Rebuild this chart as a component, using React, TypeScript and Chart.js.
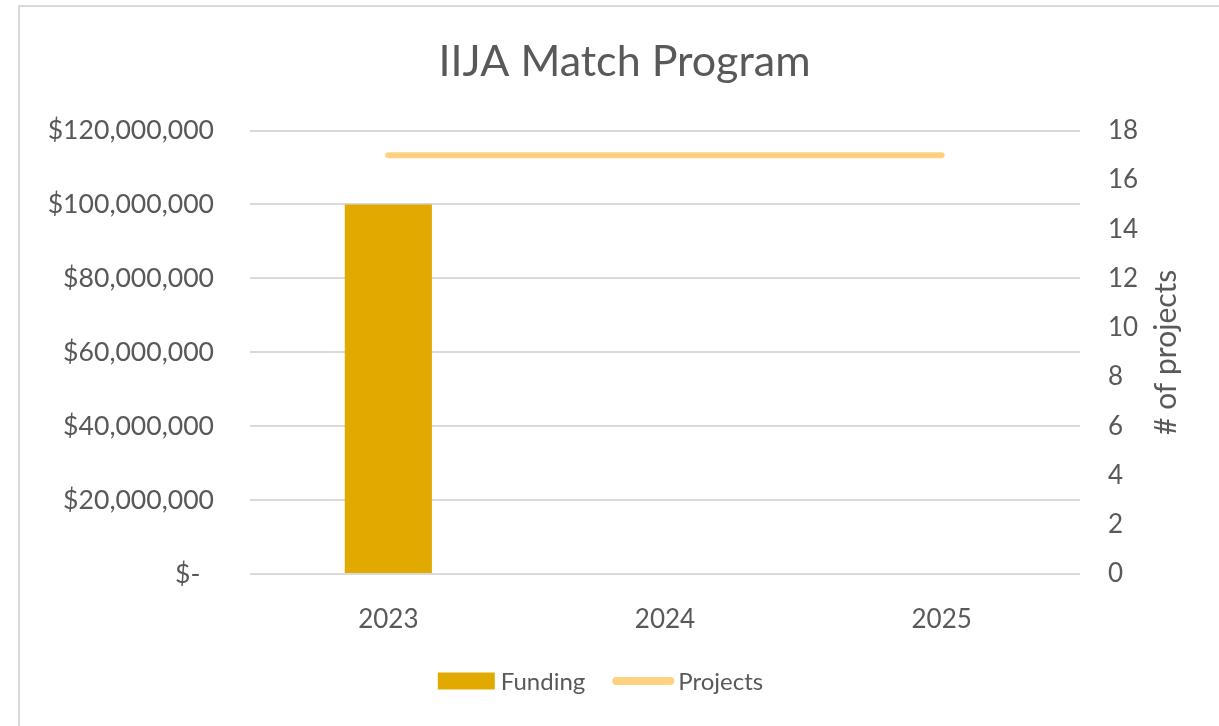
import React, { useEffect, useRef } from "react";
import { Chart, registerables } from "chart.js";

Chart.register(...registerables);

const categories = ["2023", "2024", "2025"];
const fundingValues = [100000000, 0, 0];
const projectValues = [17, 17, 17];
const fundingTickStep = 20000000;
const fundingMax = 120000000;
const projectTickStep = 2;
const projectMax = 18;
const titleText = "IIJA Match Program";
const rightAxisTitle = "# of projects";
const legendNames = ["Funding", "Projects"];

const TEXT = "#595959";
const GRID = "#d9d9d9";
const BAR = "#E2AA00";
const LINE = "#FFD282";
const FONT = "Lato";
const TITLE_SIZE = 43;
const TITLE_PAD_TOP = 36;

const overlayPlugin = {
  id: "overlay",
  afterDraw(chart: any) {
    const { ctx, chartArea } = chart;
    // Title (centered in the bordered frame)
    ctx.save();
    ctx.font = `${TITLE_SIZE}px ${FONT}`;
    ctx.fillStyle = TEXT;
    ctx.textAlign = "center";
    ctx.textBaseline = "middle";
    const tb = chart.titleBlock;
    ctx.fillText(titleText, chart.width / 2 + 15, tb.top + TITLE_PAD_TOP + (TITLE_SIZE * 1.2) / 2);
    ctx.restore();

    // Right axis title
    const s = chart.scales.y1;
    ctx.save();
    ctx.translate(s.left + 86, (chartArea.top + chartArea.bottom) / 2);
    ctx.rotate(-Math.PI / 2);
    ctx.font = `30px ${FONT}`;
    ctx.fillStyle = TEXT;
    ctx.textAlign = "center";
    ctx.textBaseline = "middle";
    ctx.fillText(rightAxisTitle, 0, 0);
    ctx.restore();

    // Legend
    ctx.save();
    ctx.font = `24px ${FONT}`;
    ctx.textBaseline = "middle";
    ctx.textAlign = "left";
    const w0 = ctx.measureText(legendNames[0]).width;
    const w1 = ctx.measureText(legendNames[1]).width;
    const sw = 57, g1 = 6, g2 = 27, lw = 62, g3 = 4;
    const total = sw + g1 + w0 + g2 + lw + g3 + w1;
    let x = chart.width / 2 - 9 - total / 2;
    const y = chartArea.bottom + 107;
    ctx.fillStyle = BAR;
    ctx.fillRect(x, y - 8.5, sw, 17);
    x += sw + g1;
    ctx.fillStyle = TEXT;
    ctx.fillText(legendNames[0], x, y + 1);
    x += w0 + g2;
    ctx.strokeStyle = LINE;
    ctx.lineWidth = 8;
    ctx.lineCap = "round";
    ctx.beginPath();
    ctx.moveTo(x + 4, y);
    ctx.lineTo(x + lw - 4, y);
    ctx.stroke();
    x += lw + g3;
    ctx.fillStyle = TEXT;
    ctx.fillText(legendNames[1], x, y + 1);
    ctx.restore();
  },
};

function fmtMoney(v: number) {
  if (v === 0) return "$-  ";
  return "$" + v.toLocaleString("en-US");
}

export default function App() {
  const ref = useRef<HTMLCanvasElement>(null);
  useEffect(() => {
    const chart = new Chart(ref.current!, {
      type: "bar",
      data: {
        labels: categories,
        datasets: [
          {
            type: "bar",
            label: legendNames[0],
            data: fundingValues,
            backgroundColor: BAR,
            yAxisID: "y",
            categoryPercentage: 1,
            barPercentage: 0.315,
            order: 2,
          },
          {
            type: "line",
            label: legendNames[1],
            data: projectValues,
            borderColor: LINE,
            backgroundColor: LINE,
            borderWidth: 6,
            borderCapStyle: "round",
            pointRadius: 0,
            yAxisID: "y1",
            order: 1,
          } as any,
        ],
      },
      options: {
        responsive: false,
        animation: false,
        devicePixelRatio: 1,
        layout: { padding: { top: 0, left: 0, right: 0, bottom: 68 } },
        plugins: {
          title: {
            display: true,
            text: titleText,
            color: "rgba(0,0,0,0)",
            font: { family: FONT, size: TITLE_SIZE, weight: "normal" },
            padding: { top: TITLE_PAD_TOP, bottom: 43 },
          },
          legend: { display: false },
          tooltip: { enabled: false },
        },
        scales: {
          x: {
            grid: { display: false },
            border: { display: false },
            ticks: {
              color: TEXT,
              font: { family: FONT, size: 26 },
              padding: 22,
            },
            afterFit: (s: any) => {
              s.height = 84;
            },
          },
          y: {
            position: "left",
            min: 0,
            max: fundingMax,
            grid: { color: GRID, lineWidth: 2, drawTicks: false },
            border: { display: false },
            ticks: {
              stepSize: fundingTickStep,
              color: TEXT,
              font: { family: FONT, size: 26.6 },
              padding: 36,
              callback: (v: any) => fmtMoney(Number(v)),
            },
            afterFit: (s: any) => {
              s.width = 250;
            },
          },
          y1: {
            position: "right",
            min: 0,
            max: projectMax,
            grid: { display: false, drawTicks: false },
            border: { display: false },
            ticks: {
              stepSize: projectTickStep,
              color: TEXT,
              font: { family: FONT, size: 26 },
              padding: 28,
            },
            afterFit: (s: any) => {
              s.width = 139;
            },
          },
        },
      },
      plugins: [overlayPlugin],
    });
    return () => chart.destroy();
  }, []);

  return (
    <div
      style={{
        position: "fixed",
        left: 0,
        top: 0,
        width: 1219,
        height: 726,
        overflow: "hidden",
        background: "#fff",
      }}
    >
      <div
        style={{
          position: "absolute",
          left: 18,
          top: 5,
          width: 1300,
          height: 800,
          border: `2px solid ${GRID}`,
          boxSizing: "border-box",
        }}
      />
      <canvas
        ref={ref}
        width={1219}
        height={726}
        style={{ position: "absolute", left: 0, top: 0 }}
      />
    </div>
  );
}
